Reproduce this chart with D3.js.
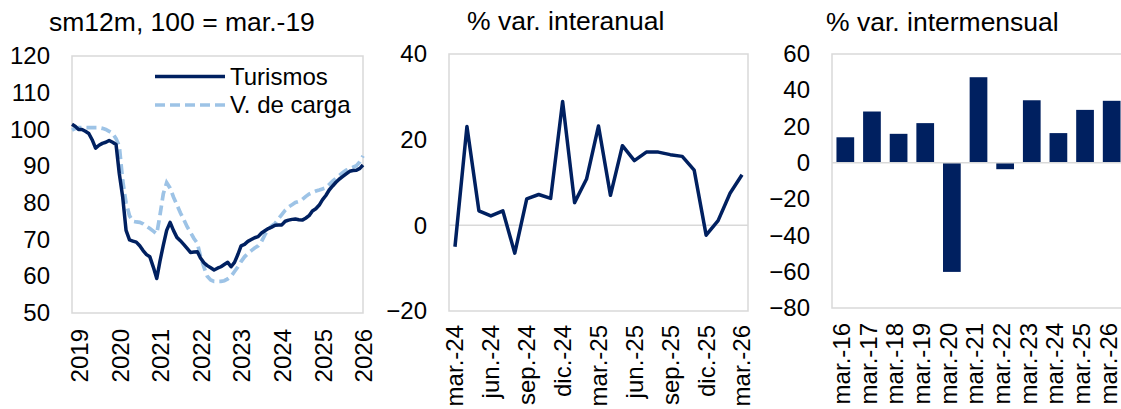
<!DOCTYPE html>
<html>
<head>
<meta charset="utf-8">
<script src="https://cdn.jsdelivr.net/npm/d3@7"></script>
<style>
  html, body { margin: 0; padding: 0; background: #fff; }
  svg { display: block; font-family: "Liberation Sans", Arial, sans-serif; }
</style>
</head>
<body>
<svg id="chart" width="1121" height="409"></svg>
<script>
// ---------- DATA ----------
// Panel 1: monthly index (sm12m, 100 = mar.-19), ene.-19 .. mar.-26
const monthStart = "2019-01";
const yearLabels = [2019, 2020, 2021, 2022, 2023, 2024, 2025, 2026];
const turismos = [
  101.4, 100.8, 100.0, 100.0, 99.5, 98.9, 97.2, 94.9, 95.7, 96.2, 96.5, 97.0,
  96.5, 95.9, 88.0, 81.5, 72.5, 69.9, 69.6, 69.3, 68.3, 67.0, 65.9, 65.3,
  62.5, 59.4, 64.0, 68.5, 72.5, 74.7, 72.5, 70.6, 69.7, 68.7, 67.6, 66.5,
  66.6, 66.7, 65.0, 63.7, 62.9, 62.3, 61.7, 62.2, 62.6, 63.2, 63.8, 62.6,
  63.8, 66.0, 68.3, 68.7, 69.5, 70.0, 70.5, 70.8, 71.8, 72.4, 73.0, 73.4,
  73.9, 74.0, 74.0, 75.0, 75.3, 75.5, 75.6, 75.4, 75.3, 75.8, 76.5, 77.8,
  78.4, 79.4, 80.8, 82.0, 83.5, 84.6, 85.6, 86.5, 87.2, 87.9, 88.6, 88.8,
  88.9, 89.4, 90.3
];
const vCarga = [
  99.8, 100.3, 100.5, 100.5, 100.5, 100.5, 100.5, 100.5, 100.5, 100.3, 100.0, 99.5,
  98.9, 97.5, 95.5, 86.0, 80.0, 76.5, 75.0, 74.8, 74.7, 74.3, 73.6, 73.0,
  72.3, 71.6, 76.5, 82.5, 85.5, 84.0, 81.6, 79.5, 77.3, 75.5, 73.5, 72.0,
  70.3, 69.0, 65.5, 62.5, 60.0, 59.0, 58.6, 58.6, 58.6, 58.8, 59.3, 60.0,
  61.3, 62.6, 64.0, 65.3, 66.2, 67.0, 67.7, 68.3, 69.5, 71.3, 72.8, 73.7,
  74.4, 75.7, 76.8, 78.0, 78.9, 79.5, 80.1, 80.4, 80.9, 81.7, 82.4, 82.8,
  83.2, 83.5, 83.8, 84.1, 85.0, 85.9, 86.7, 87.5, 88.3, 88.9, 89.3, 89.7,
  90.1, 91.2, 92.8
];
const idxTicks = [50, 60, 70, 80, 90, 100, 110, 120];

// Panel 2: % var. interanual
const mesesIA = ["mar.-24","abr.-24","may.-24","jun.-24","jul.-24","ago.-24","sep.-24","oct.-24","nov.-24","dic.-24",
  "ene.-25","feb.-25","mar.-25","abr.-25","may.-25","jun.-25","jul.-25","ago.-25","sep.-25","oct.-25","nov.-25","dic.-25",
  "ene.-26","feb.-26","mar.-26"];
const varInteranual = [-5.0, 23.1, 3.4, 2.2, 3.4, -6.5, 6.2, 7.2, 6.3, 28.9,
  5.3, 10.8, 23.2, 7.0, 18.6, 15.1, 17.1, 17.1, 16.5, 16.1, 12.9, -2.3,
  1.1, 7.5, 11.8];
const iaTickLabels = ["mar.-24","jun.-24","sep.-24","dic.-24","mar.-25","jun.-25","sep.-25","dic.-25","mar.-26"];
const iaTicks = [-20, 0, 20, 40];

// Panel 3: % var. intermensual
const mesesIM = ["mar.-16","mar.-17","mar.-18","mar.-19","mar.-20","mar.-21","mar.-22","mar.-23","mar.-24","mar.-25","mar.-26"];
const varIntermensual = [14.1, 28.3, 16.0, 21.9, -60.1, 47.2, -3.5, 34.5, 16.4, 29.2, 34.2];
const imTicks = [-80, -60, -40, -20, 0, 20, 40, 60];

// ---------- STYLE ----------
const DARK = "#002060";
const LIGHT = "#9DC3E6";
const FRAME = "#d9d9d9";
const TICK_FS = 24;
const TITLE_FS = 26.5;

const svg = d3.select("#chart");

function frame(g, x0, y0, x1, y1) {
  g.append("rect").attr("x", x0).attr("y", y0).attr("width", x1 - x0).attr("height", y1 - y0)
    .attr("fill", "none").attr("stroke", FRAME).attr("stroke-width", 1.5);
}
function yAxis(g, y, x0, ticks, fmt) {
  const ax = g.append("g").attr("transform", `translate(${x0},0)`)
    .call(d3.axisLeft(y).tickValues(ticks).tickSize(0).tickPadding(22).tickFormat(fmt || d3.format("d")));
  ax.select(".domain").remove();
  ax.selectAll("text").attr("font-size", TICK_FS).attr("fill", "#000").attr("font-family", "Liberation Sans, Arial, sans-serif");
}
function rotLabels(g, items, xf, yTop) {
  g.selectAll(null).data(items).enter().append("text")
    .attr("transform", d => `translate(${xf(d)},${yTop}) rotate(-90)`)
    .attr("text-anchor", "end").attr("dy", "0.35em")
    .attr("font-size", TICK_FS).attr("fill", "#000")
    .text(d => d.label !== undefined ? d.label : d);
}
function title(x, y, txt) {
  svg.append("text").attr("x", x).attr("y", y).attr("font-size", TITLE_FS).attr("fill", "#000").text(txt);
}

// ---------- PANEL 1 ----------
{
  const g = svg.append("g");
  const L = 72, R = 363, T = 56, B = 313;
  const start = d3.timeParse("%Y-%m")(monthStart);
  const dates = turismos.map((_, i) => d3.timeMonth.offset(start, i));
  const x = d3.scaleTime().domain([dates[0], dates[dates.length - 1]]).range([L, R]);
  const y = d3.scaleLinear().domain([50, 120]).range([B, T]);
  frame(g, L, T, R, B);
  yAxis(g, y, L, idxTicks);
  const yearItems = yearLabels.map(yr => ({ label: String(yr), date: new Date(yr, 2, 1) }));
  rotLabels(g, yearItems, d => x(d.date) + 1, B + 16);

  const line = d3.line().x((d, i) => x(dates[i])).y(d => y(d));
  g.append("path").datum(vCarga).attr("d", line).attr("fill", "none")
    .attr("stroke", LIGHT).attr("stroke-width", 3.7).attr("stroke-dasharray", "10,5");
  g.append("path").datum(turismos).attr("d", line).attr("fill", "none")
    .attr("stroke", DARK).attr("stroke-width", 3.5).attr("stroke-linejoin", "round");

  // legend
  const leg = [{ name: "Turismos", c: DARK, dash: null, y: 76.5 }, { name: "V. de carga", c: LIGHT, dash: "10,5", y: 105 }];
  leg.forEach(d => {
    g.append("line").attr("x1", 155).attr("x2", 225).attr("y1", d.y).attr("y2", d.y)
      .attr("stroke", d.c).attr("stroke-width", 3.7).attr("stroke-dasharray", d.dash);
    g.append("text").attr("x", 230).attr("y", d.y).attr("dy", "0.35em")
      .attr("font-size", TICK_FS).attr("fill", "#000").text(d.name);
  });
  title(49, 31, "sm12m, 100 = mar.-19");
}

// ---------- PANEL 2 ----------
{
  const g = svg.append("g");
  const L = 449, R = 748, T = 54, B = 311;
  const x = d3.scaleBand().domain(mesesIA).range([L, R]);
  const xc = m => x(m) + x.bandwidth() / 2;
  const y = d3.scaleLinear().domain([-20, 40]).range([B, T]);
  frame(g, L, T, R, B);
  g.append("line").attr("x1", L).attr("x2", R).attr("y1", y(0)).attr("y2", y(0))
    .attr("stroke", FRAME).attr("stroke-width", 1.5);
  yAxis(g, y, L, iaTicks);
  rotLabels(g, iaTickLabels, xc, B + 14);
  const line = d3.line().x((d, i) => xc(mesesIA[i])).y(d => y(d));
  g.append("path").datum(varInteranual).attr("d", line).attr("fill", "none")
    .attr("stroke", DARK).attr("stroke-width", 3.5).attr("stroke-linejoin", "round");
  title(467, 30, "% var. interanual");
}

// ---------- PANEL 3 ----------
{
  const g = svg.append("g");
  const L = 832, R = 1125, T = 54, B = 308;
  const x = d3.scaleBand().domain(mesesIM).range([L, R]).paddingInner(0.335).paddingOuter(0.1675);
  const y = d3.scaleLinear().domain([-80, 60]).range([B, T]);
  frame(g, L, T, R, B);
  yAxis(g, y, L, imTicks);
  g.selectAll(null).data(varIntermensual).enter().append("rect")
    .attr("x", (d, i) => x(mesesIM[i]))
    .attr("width", x.bandwidth())
    .attr("y", d => y(Math.max(0, d)))
    .attr("height", d => Math.abs(y(d) - y(0)))
    .attr("fill", DARK);
  g.append("line").attr("x1", L).attr("x2", R).attr("y1", y(0)).attr("y2", y(0))
    .attr("stroke", FRAME).attr("stroke-width", 1.5);
  rotLabels(g, mesesIM, m => x(m) + x.bandwidth() / 2 - 3.5, B + 15);
  title(826, 31, "% var. intermensual");
}
</script>
</body>
</html>
